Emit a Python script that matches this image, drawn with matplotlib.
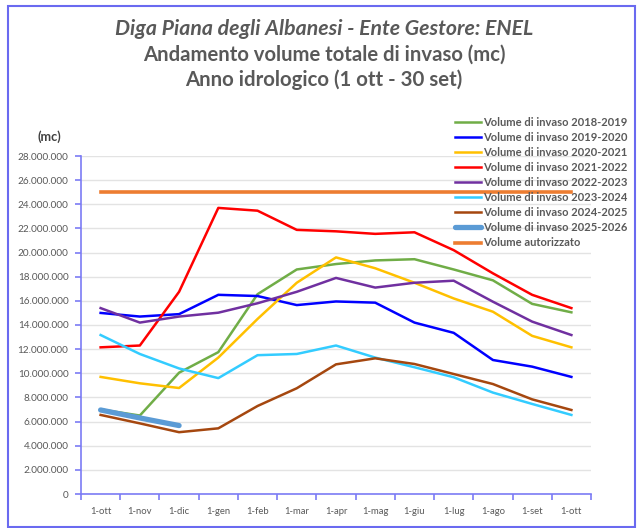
import matplotlib
matplotlib.use('Agg')
import matplotlib.pyplot as plt
from matplotlib.ticker import FuncFormatter, MultipleLocator, FixedLocator
from matplotlib.patches import Rectangle

plt.rcParams['font.family'] = ['Lato', 'DejaVu Sans']

# Categories (months of hydrological year)
months = ['1-ott', '1-nov', '1-dic', '1-gen', '1-feb', '1-mar', '1-apr',
          '1-mag', '1-giu', '1-lug', '1-ago', '1-set', '1-ott']

# Volumes (mc)
v2018 = [7.0e6, 6.5e6, 10.05e6, 11.75e6, 16.55e6, 18.6e6, 19.05e6,
         19.35e6, 19.45e6, 18.6e6, 17.7e6, 15.75e6, 15.05e6]
v2019 = [15.0e6, 14.7e6, 14.9e6, 16.5e6, 16.4e6, 15.65e6, 15.95e6,
         15.85e6, 14.2e6, 13.35e6, 11.1e6, 10.55e6, 9.7e6]
v2020 = [9.7e6, 9.17e6, 8.78e6, 11.3e6, 14.5e6, 17.5e6, 19.6e6,
         18.7e6, 17.5e6, 16.2e6, 15.1e6, 13.1e6, 12.15e6]
v2021 = [12.15e6, 12.3e6, 16.75e6, 23.7e6, 23.47e6, 21.88e6, 21.76e6,
         21.55e6, 21.68e6, 20.2e6, 18.28e6, 16.5e6, 15.4e6]
v2022 = [15.4e6, 14.2e6, 14.7e6, 15.02e6, 15.8e6, 16.75e6, 17.9e6,
         17.1e6, 17.5e6, 17.67e6, 15.93e6, 14.28e6, 13.17e6]
v2023 = [13.17e6, 11.6e6, 10.4e6, 9.6e6, 11.5e6, 11.6e6, 12.3e6,
         11.3e6, 10.5e6, 9.67e6, 8.4e6, 7.46e6, 6.55e6]
v2024 = [6.55e6, 5.85e6, 5.12e6, 5.44e6, 7.29e6, 8.76e6, 10.74e6,
         11.24e6, 10.77e6, 9.94e6, 9.11e6, 7.84e6, 6.96e6]
v2025 = [6.96e6, 6.3e6, 5.67e6]
autorizzato = [25.0e6] * 13

series = [
    ('Volume di invaso 2018-2019', v2018, '#70ad47', 1.8),
    ('Volume di invaso 2019-2020', v2019, '#0000ff', 1.8),
    ('Volume di invaso 2020-2021', v2020, '#ffc000', 1.8),
    ('Volume di invaso 2021-2022', v2021, '#ff0000', 1.8),
    ('Volume di invaso 2022-2023', v2022, '#7030a0', 1.8),
    ('Volume di invaso 2023-2024', v2023, '#33ccff', 1.8),
    ('Volume di invaso 2024-2025', v2024, '#a5470f', 1.8),
    ('Volume di invaso 2025-2026', v2025, '#5b9bd5', 3.8),
    ('Volume autorizzato', autorizzato, '#ed7d31', 2.6),
]

W, H = 639, 528
fig = plt.figure(figsize=(W / 100, H / 100), dpi=100)
ax = fig.add_axes([81 / W, 1 - 494 / H, 510 / W, 338 / H])

x = list(range(len(months)))
for label, vals, color, lw in series:
    ax.plot(x[:len(vals)], vals, color=color, lw=lw, label=label,
            solid_capstyle='round' if lw > 3 else 'projecting', zorder=3)

ax.set_xlim(-0.5, len(months) - 0.5)
ax.set_ylim(0, 28e6)
ax.yaxis.set_major_locator(MultipleLocator(2e6))
ax.yaxis.set_major_formatter(FuncFormatter(
    lambda v, p: '0' if v == 0 else f'{int(v):,}'.replace(',', '.')))
ax.set_xticks(x)
ax.set_xticklabels(months)
ax.xaxis.set_minor_locator(FixedLocator([i - 0.5 for i in range(len(months) + 1)]))
ax.tick_params(axis='x', which='major', length=0, pad=9, labelsize=7.5, labelcolor='#595959')
ax.tick_params(axis='x', which='minor', length=4, width=1.2, color='#7b7bf5')
ax.tick_params(axis='y', length=4, width=1.2, color='#7b7bf5', labelsize=8,
               labelcolor='#595959', pad=5)

ax.grid(axis='y', color='#e3e3e3', lw=1)
ax.set_axisbelow(True)
for s in ['top', 'right']:
    ax.spines[s].set_visible(False)
for s in ['left', 'bottom']:
    ax.spines[s].set_color('#7b7bf5')
    ax.spines[s].set_linewidth(1.2)

mc = fig.text(37 / W, 1 - 137 / H, '(mc)', fontsize=8, fontweight='bold',
              color='#404040', va='center')

titles = [
    ('Diga Piana degli Albanesi - Ente Gestore: ENEL', 29, 418, 'italic'),
    ('Andamento volume totale di invaso (mc)', 55, 364, 'normal'),
    ('Anno idrologico (1 ott - 30 set)', 80, 278, 'normal'),
]
title_artists = []
for txt, yc, wpx, st in titles:
    t = fig.text(324 / W, 1 - yc / H, txt, ha='center', va='center', fontsize=14,
                 style=st, fontweight='bold', color='#595959')
    title_artists.append((t, wpx))

leg = ax.legend(loc='upper left', bbox_to_anchor=(455 / W, 1 - 114 / H),
                bbox_transform=fig.transFigure, frameon=False, fontsize=8,
                handlelength=2.4, handletextpad=0.15, labelspacing=0.37,
                borderaxespad=0, borderpad=0)
for t in leg.get_texts():
    t.set_color('#595959')
    t.set_fontweight('bold')

fig.patches.append(Rectangle((8 / W, 1 - 527 / H), 627 / W, 521 / H,
                             transform=fig.transFigure, fill=False,
                             edgecolor='#6a6af0', lw=1.5, zorder=10))


# scale text so that rendered widths match the reference
def width(artist):
    fig.canvas.draw()
    return artist.get_window_extent().width


for t, wpx in title_artists:
    t.set_fontsize(t.get_fontsize() * wpx / width(t))
mc.set_fontsize(mc.get_fontsize() * 24 / width(mc))

fig.canvas.draw()
ylab = [t for t in ax.get_yticklabels() if t.get_text() == '28.000.000'][0]
ax.tick_params(axis='y', labelsize=8 * 51 / width(ylab))
xlab = ax.get_xticklabels()[0]
ax.tick_params(axis='x', which='major', labelsize=7.5 * 21 / width(xlab))

lt = leg.get_texts()
fs = 8 * 144 / width(lt[0])
for t in lt:
    t.set_fontsize(fs)
fig.canvas.draw()
c0 = lt[0].get_window_extent()
c1 = lt[-1].get_window_extent()
pitch = ((c0.y0 + c0.y1) - (c1.y0 + c1.y1)) / 2 / (len(lt) - 1)
leg.labelspacing = 0.37 + (15.4 - pitch) / (fs * 100 / 72)
fig.canvas.draw()
c0 = lt[0].get_window_extent()
dy = (c0.y0 + c0.y1) / 2 - (H - 122)
dx = c0.x0 - 483
leg.set_bbox_to_anchor(((455 - dx) / W, 1 - (114 + dy) / H), transform=fig.transFigure)

fig.savefig('out.png', dpi=100)
